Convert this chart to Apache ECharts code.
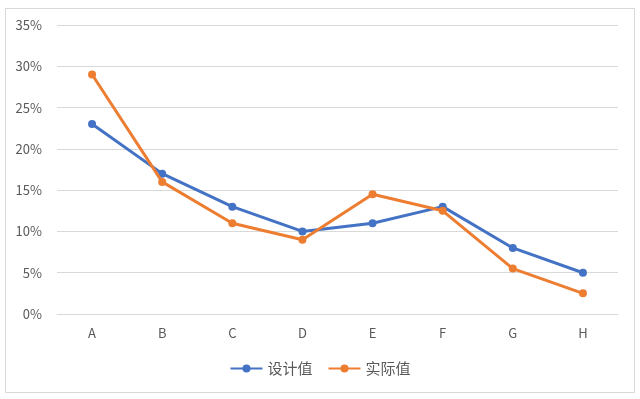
<!DOCTYPE html>
<html>
<head>
<meta charset="utf-8">
<script src="https://cdn.jsdelivr.net/npm/echarts@6/dist/echarts.min.js"></script>
<style>
  html, body { margin: 0; padding: 0; background: #fff; }
  #frame { position: absolute; left: 5px; top: 8px; width: 630px; height: 385px; border: 1px solid #d9d9d9; box-sizing: border-box; }
  #chart { position: absolute; left: 0; top: 0; width: 640px; height: 399px; }
</style>
</head>
<body>
<div id="frame"></div>
<div id="chart"></div>
<script>
const categories = ['A', 'B', 'C', 'D', 'E', 'F', 'G', 'H']
const designValues = [23, 17, 13, 10, 11, 13, 8, 5]
const actualValues = [29, 16, 11, 9, 14.5, 12.5, 5.5, 2.5]
const seriesNames = ['设计值', '实际值']

const font = '"Noto Sans CJK SC", "Noto Sans", sans-serif'
const chart = echarts.init(document.getElementById('chart'), null, { renderer: 'canvas' })

const lineSeries = (name, data, color) => ({
  name,
  type: 'line',
  data,
  symbol: 'circle',
  symbolSize: 8,
  lineStyle: { width: 3, color },
  itemStyle: { color },
  z: name === seriesNames[1] ? 3 : 2
})

chart.setOption({
  animation: false,
  textStyle: { fontFamily: font },
  grid: { left: 57, right: 22, top: 25, bottom: 85, containLabel: false },
  legend: {
    data: seriesNames,
    bottom: 18,
    left: 'center',
    itemWidth: 32,
    itemHeight: 10,
    itemGap: 15,
    textStyle: { color: '#595959', fontSize: 15, fontFamily: font }
  },
  xAxis: {
    type: 'category',
    data: categories,
    boundaryGap: true,
    axisLine: { lineStyle: { color: '#d9d9d9' } },
    axisTick: { show: false },
    axisLabel: { color: '#595959', fontSize: 13, margin: 13 }
  },
  yAxis: {
    type: 'value',
    min: 0,
    max: 35,
    interval: 5,
    axisLine: { show: false },
    axisTick: { show: false },
    splitLine: { lineStyle: { color: '#d9d9d9' } },
    axisLabel: { color: '#595959', fontSize: 13, margin: 15, formatter: v => v + '%' }
  },
  series: [
    lineSeries(seriesNames[0], designValues, '#4472C4'),
    lineSeries(seriesNames[1], actualValues, '#ED7D31')
  ]
})
</script>
</body>
</html>
